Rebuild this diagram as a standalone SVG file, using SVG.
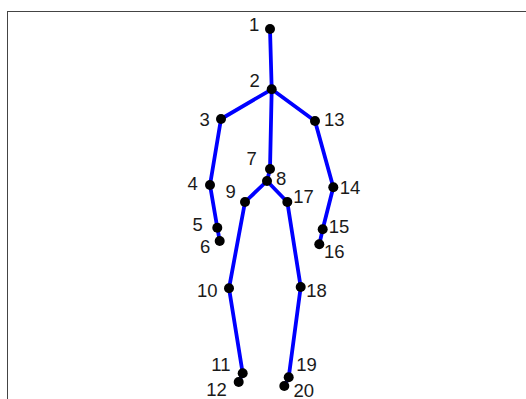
<svg xmlns="http://www.w3.org/2000/svg" width="526" height="399" viewBox="0 0 526 399">
<style>
.bone{stroke:#0000ff;stroke-width:3.8;stroke-linecap:round;fill:none}
.j{fill:#000}
text{font-family:"Liberation Sans",Arial,sans-serif;font-size:18.5px;fill:#1a1a1a}
</style>
<rect width="526" height="399" fill="#fff"/>
<rect x="7.5" y="11.5" width="530" height="400" fill="none" stroke="#444" stroke-width="1"/>
<g id="connectors">
<line class="bone" x1="270" y1="29" x2="271.7" y2="89.3"/>
<line class="bone" x1="271.7" y1="89.3" x2="221" y2="119"/>
<line class="bone" x1="271.7" y1="89.3" x2="315" y2="121"/>
<line class="bone" x1="271.7" y1="89.3" x2="270" y2="169"/>
<line class="bone" x1="221" y1="119" x2="210" y2="185"/>
<line class="bone" x1="210" y1="185" x2="217.3" y2="227.7"/>
<line class="bone" x1="217.3" y1="227.7" x2="219.7" y2="241"/>
<line class="bone" x1="315" y1="121" x2="333.3" y2="187.3"/>
<line class="bone" x1="333.3" y1="187.3" x2="322.7" y2="229.3"/>
<line class="bone" x1="322.7" y1="229.3" x2="319.3" y2="244.3"/>
<line class="bone" x1="270" y1="169" x2="267" y2="181"/>
<line class="bone" x1="267" y1="181" x2="245" y2="202"/>
<line class="bone" x1="267" y1="181" x2="287.3" y2="202"/>
<line class="bone" x1="245" y1="202" x2="229" y2="288.3"/>
<line class="bone" x1="229" y1="288.3" x2="242.7" y2="373.3"/>
<line class="bone" x1="242.7" y1="373.3" x2="238.7" y2="382"/>
<line class="bone" x1="287.3" y1="202" x2="300.7" y2="287"/>
<line class="bone" x1="300.7" y1="287" x2="288.7" y2="377.3"/>
<line class="bone" x1="288.7" y1="377.3" x2="284.3" y2="386"/>
</g>
<g id="n1"><circle class="j" cx="270" cy="29" r="5"/><text x="249" y="31">1</text></g>
<g id="n2"><circle class="j" cx="271.7" cy="89.3" r="5"/><text x="249.5" y="87.3">2</text></g>
<g id="n3"><circle class="j" cx="221" cy="119" r="5"/><text x="199.5" y="126">3</text></g>
<g id="n4"><circle class="j" cx="210" cy="185" r="5"/><text x="187.5" y="190">4</text></g>
<g id="n5"><circle class="j" cx="217.3" cy="227.7" r="5"/><text x="192.5" y="231">5</text></g>
<g id="n6"><circle class="j" cx="219.7" cy="241" r="5"/><text x="200" y="252.7">6</text></g>
<g id="n7"><circle class="j" cx="270" cy="169" r="5"/><text x="246.5" y="165">7</text></g>
<g id="n8"><circle class="j" cx="267" cy="181" r="5"/><text x="276" y="185">8</text></g>
<g id="n9"><circle class="j" cx="245" cy="202" r="5"/><text x="225.5" y="198.3">9</text></g>
<g id="n10"><circle class="j" cx="229" cy="288.3" r="5"/><text x="197" y="296.7">10</text></g>
<g id="n11"><circle class="j" cx="242.7" cy="373.3" r="5"/><text x="211.3" y="370.7">11</text></g>
<g id="n12"><circle class="j" cx="238.7" cy="382" r="5"/><text x="206.3" y="396">12</text></g>
<g id="n13"><circle class="j" cx="315" cy="121" r="5"/><text x="324" y="126">13</text></g>
<g id="n14"><circle class="j" cx="333.3" cy="187.3" r="5"/><text x="339.7" y="194">14</text></g>
<g id="n15"><circle class="j" cx="322.7" cy="229.3" r="5"/><text x="328.7" y="233.3">15</text></g>
<g id="n16"><circle class="j" cx="319.3" cy="244.3" r="5"/><text x="324" y="258.3">16</text></g>
<g id="n17"><circle class="j" cx="287.3" cy="202" r="5"/><text x="293.3" y="203.3">17</text></g>
<g id="n18"><circle class="j" cx="300.7" cy="287" r="5"/><text x="306.3" y="296.7">18</text></g>
<g id="n19"><circle class="j" cx="288.7" cy="377.3" r="5"/><text x="296.3" y="370.7">19</text></g>
<g id="n20"><circle class="j" cx="284.3" cy="386" r="5"/><text x="293.5" y="397">20</text></g>
</svg>
